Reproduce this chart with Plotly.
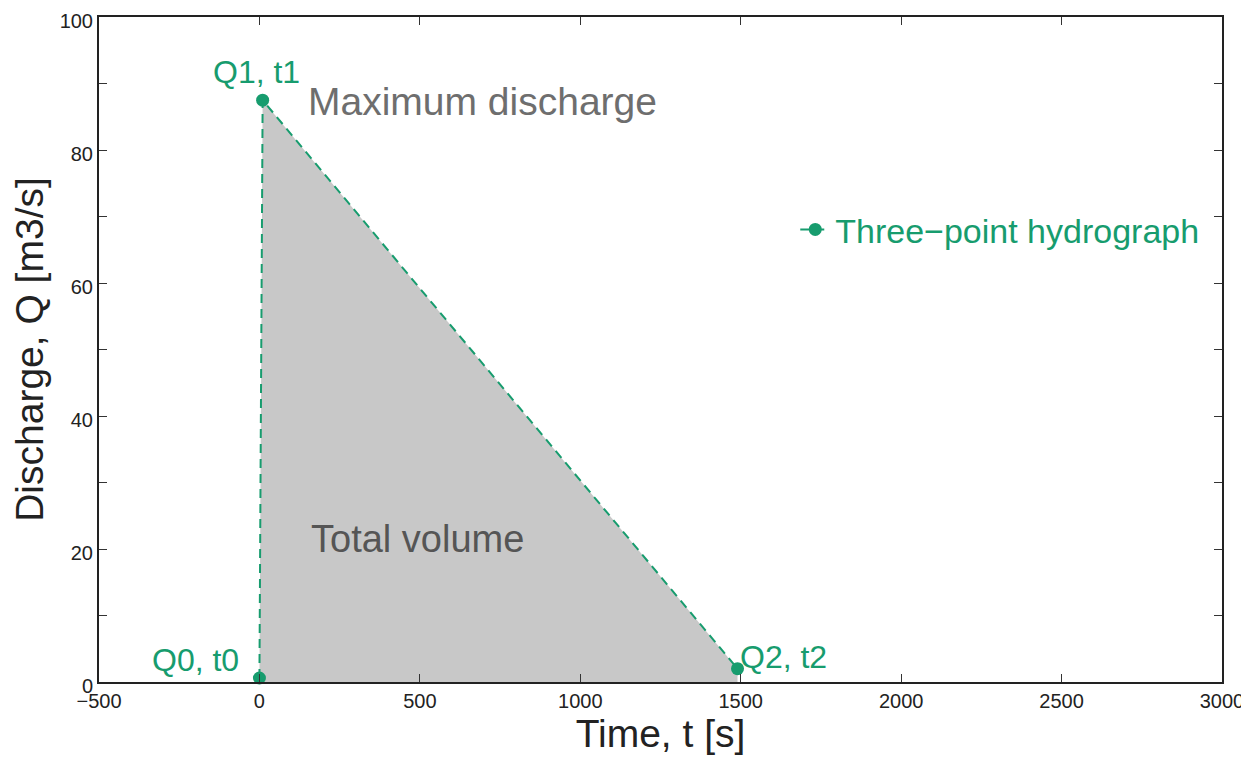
import plotly.graph_objects as go

# Data
t_points = [0, 10, 1490]
q_points = [0.6, 87.5, 2.0]
point_labels = ["Q0, t0", "Q1, t1", "Q2, t2"]
series_name = "Three\u2212point hydrograph"
x_ticks = [-500, 0, 500, 1000, 1500, 2000, 2500, 3000]
y_ticks = [0, 20, 40, 60, 80, 100]

GREEN = "#179c6e"
FONT = "Liberation Sans, Arial, sans-serif"

fig = go.Figure()

# grey area (total volume)
fig.add_trace(go.Scatter(
    x=t_points, y=q_points, mode="lines", fill="tozeroy",
    fillcolor="#c8c8c8", line=dict(width=0, color="#c8c8c8"),
    showlegend=False, hoverinfo="skip"))

# hydrograph
fig.add_trace(go.Scatter(
    x=t_points, y=q_points, mode="lines+markers", name=series_name,
    line=dict(color=GREEN, width=2, dash="9px,6px"),
    marker=dict(color=GREEN, size=13), cliponaxis=False))

# point labels
fig.add_annotation(x=t_points[0], y=q_points[0], text=point_labels[0],
                   xref="x", yref="y", showarrow=False, xanchor="right", yanchor="bottom",
                   xshift=-18, yshift=-2, font=dict(size=32, color=GREEN, family=FONT))
fig.add_annotation(x=t_points[1], y=q_points[1], text=point_labels[1],
                   xref="x", yref="y", showarrow=False, xanchor="center", yanchor="bottom",
                   xshift=-6, yshift=8, font=dict(size=32, color=GREEN, family=FONT))
fig.add_annotation(x=t_points[2], y=q_points[2], text=point_labels[2],
                   xref="x", yref="y", showarrow=False, xanchor="left", yanchor="bottom",
                   xshift=0, yshift=-8, font=dict(size=32, color=GREEN, family=FONT))

fig.add_annotation(x=146, y=87.3, text="Maximum discharge", xref="x", yref="y",
                   showarrow=False, xanchor="left", yanchor="middle",
                   font=dict(size=39, color="#6e6e6e", family=FONT))
fig.add_annotation(x=156, y=21.5, text="Total volume", xref="x", yref="y",
                   showarrow=False, xanchor="left", yanchor="middle",
                   font=dict(size=38, color="#555555", family=FONT))

axis_common = dict(
    showline=True, linecolor="#222222", linewidth=2, mirror="ticks",
    ticks="inside", ticklen=8, tickwidth=1.2, tickcolor="#333333",
    showgrid=False, zeroline=False, automargin=False,
    ticklabeloverflow="allow",
    tickfont=dict(size=20, color="#222222", family=FONT),
)

fig.update_xaxes(range=[-500, 3000], tickvals=x_ticks,
                 title=dict(text="Time, t [s]", font=dict(size=39, color="#222222", family=FONT), standoff=8),
                 **axis_common)
fig.update_yaxes(range=[0, 100], tickvals=y_ticks, ticklabelshift=4,
                 minor=dict(ticks="inside", dtick=10, ticklen=8, tickcolor="#333333"),
                 title=dict(text="Discharge, Q [m3/s]", font=dict(size=39, color="#222222", family=FONT), standoff=10),
                 **axis_common)

# page has an 8px body margin, so the figure is drawn offset by (8, 8)
fig.update_layout(
    width=1241, height=761,
    margin=dict(l=91, r=27, t=9, b=87),
    paper_bgcolor="white", plot_bgcolor="white",
    showlegend=True,
    legend=dict(x=0.62, y=0.68, xanchor="left", yanchor="middle",
                bgcolor="rgba(0,0,0,0)", font=dict(size=34, color=GREEN, family=FONT),
                itemwidth=30),
)

fig.write_html("out.html")
